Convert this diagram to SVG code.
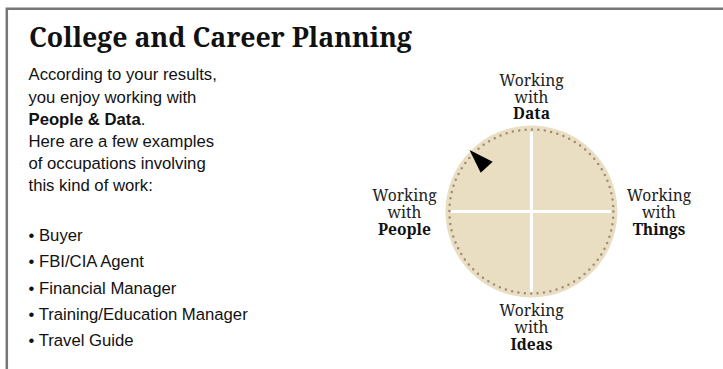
<svg xmlns="http://www.w3.org/2000/svg" width="723" height="369" viewBox="0 0 723 369">
<style>
.t{font-family:"Noto Serif","DejaVu Serif",serif;font-size:15.600px;fill:#222;text-anchor:middle}
.b{font-weight:700;fill:#111}
.s{font-family:"Liberation Sans",Arial,sans-serif;font-size:16.700px;fill:#111}
</style>
<rect width="723" height="369" fill="#fff"/>
<path d="M6.800 369V8.700H723" fill="none" stroke="#777" stroke-width="2.500"/>
<text x="29" y="47" font-family="Noto Serif,DejaVu Serif,serif" font-size="26.700" font-weight="700" fill="#111">College and Career Planning</text>
<g id="intro" class="s">
<text x="28.500" y="80">According to your results,</text>
<text x="28.500" y="103">you enjoy working with</text>
<text x="28.500" y="125"><tspan font-weight="700">People &amp; Data</tspan>.</text>
<text x="28.500" y="147">Here are a few examples</text>
<text x="28.500" y="169">of occupations involving</text>
<text x="28.500" y="191">this kind of work:</text>
</g>
<g id="list" class="s">
<text x="28.500" y="241">• Buyer</text>
<text x="28.500" y="267">• FBI/CIA Agent</text>
<text x="28.500" y="294">• Financial Manager</text>
<text x="28.500" y="320">• Training/Education Manager</text>
<text x="28.500" y="346">• Travel Guide</text>
</g>
<g id="wheel">
<circle cx="531.400" cy="211.500" r="86" fill="#e9dec1"/>
<circle cx="531.400" cy="211.500" r="82" fill="none" stroke="#a08c78" stroke-width="2.500" stroke-linecap="round" stroke-dasharray="0 6.440"/>
<path d="M531.400 132V292M451 211.500H611" stroke="#fff" stroke-width="3" fill="none"/>
<polygon id="pointer" points="469.500,150 492.700,161.700 480.700,172.700" fill="#000"/>
</g>
<g id="data" class="t"><text x="531.500" y="86">Working</text><text x="531.500" y="102.500">with</text><text class="b" x="531.500" y="119">Data</text></g>
<g id="people" class="t"><text x="404.500" y="201">Working</text><text x="404.500" y="218">with</text><text class="b" x="404.500" y="235">People</text></g>
<g id="things" class="t"><text x="659" y="201">Working</text><text x="659" y="218">with</text><text class="b" x="659" y="235">Things</text></g>
<g id="ideas" class="t"><text x="531.500" y="316">Working</text><text x="531.500" y="333">with</text><text class="b" x="531.500" y="350">Ideas</text></g>
</svg>
